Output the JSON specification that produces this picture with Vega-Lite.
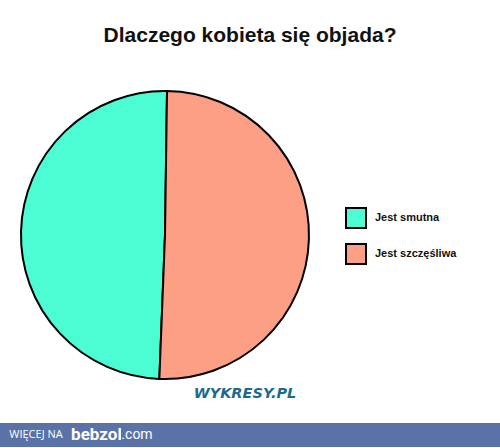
{
  "$schema": "https://vega.github.io/schema/vega-lite/v6.json",
  "background": "white",
  "padding": {"top": 25, "left": 0, "right": 0, "bottom": 0},
  "title": {
    "text": "Dlaczego kobieta się objada?",
    "font": "Liberation Sans, Arial",
    "fontSize": 21,
    "fontWeight": "bold",
    "color": "#111111",
    "anchor": "middle",
    "baseline": "top",
    "offset": 41
  },
  "spacing": 0,
  "bounds": "flush",
  "config": {"view": {"stroke": null}, "concat": {"spacing": 0}},
  "vconcat": [
    {
      "width": 330,
      "height": 288,
      "data": {"values": [
        {"answer": "Jest smutna", "share": 49.6},
        {"answer": "Jest szczęśliwa", "share": 50.4}
      ]},
      "mark": {"type": "arc", "radius": 144, "stroke": "black", "strokeWidth": 2},
      "encoding": {
        "theta": {"field": "share", "type": "quantitative", "stack": true, "scale": {"range": [0.014, 6.2972]}},
        "order": {"field": "share", "sort": "descending"},
        "color": {
          "field": "answer",
          "type": "nominal",
          "scale": {"domain": ["Jest smutna", "Jest szczęśliwa"], "range": ["#4cfdd3", "#fd9f84"]},
          "legend": {
            "title": null,
            "orient": "none",
            "legendX": 345,
            "legendY": 116,
            "padding": 0,
            "symbolType": "square",
            "symbolSize": 400,
            "symbolStrokeColor": "black",
            "symbolStrokeWidth": 2,
            "symbolOpacity": 1,
            "symbolFillOpacity": 1,
            "rowPadding": 8,
            "labelOffset": 8,
            "labelFont": "Liberation Sans, Arial",
            "labelFontSize": 11,
            "labelFontWeight": "bold",
            "labelColor": "#111111"
          }
        }
      }
    },
    {
      "width": 490,
      "height": 44,
      "data": {"values": [{"logo": "WYKRESY.PL"}]},
      "mark": {"type": "text", "font": "DejaVu Sans", "fontSize": 14.5, "fontWeight": "bold", "fontStyle": "italic", "color": "#1b6b8d", "dy": -7},
      "encoding": {"text": {"field": "logo"}}
    },
    {
      "bounds": "flush",
      "spacing": 0,
      "hconcat": [
        {
          "width": 72, "height": 24,
          "view": {"fill": "#5b72a8", "stroke": null},
          "data": {"values": [{"t": "WIĘCEJ NA"}]},
          "mark": {"type": "text", "font": "Open Sans", "fontSize": 11, "color": "white", "baseline": "middle"},
          "encoding": {"text": {"field": "t"}}
        },
        {
          "width": 49, "height": 24,
          "view": {"fill": "#5b72a8", "stroke": null},
          "data": {"values": [{"t": "bebzol"}]},
          "mark": {"type": "text", "font": "Roboto", "fontSize": 17, "fontWeight": "bold", "color": "white", "baseline": "middle"},
          "encoding": {"text": {"field": "t"}}
        },
        {
          "width": 32, "height": 24,
          "view": {"fill": "#5b72a8", "stroke": null},
          "data": {"values": [{"t": ".com"}]},
          "mark": {"type": "text", "font": "Roboto", "fontSize": 14, "color": "white", "baseline": "middle"},
          "encoding": {"text": {"field": "t"}}
        },
        {
          "width": 347, "height": 24,
          "view": {"fill": "#5b72a8", "stroke": null},
          "data": {"values": [{"t": ""}]},
          "mark": {"type": "text", "color": "white"},
          "encoding": {"text": {"field": "t"}}
        }
      ]
    }
  ]
}
